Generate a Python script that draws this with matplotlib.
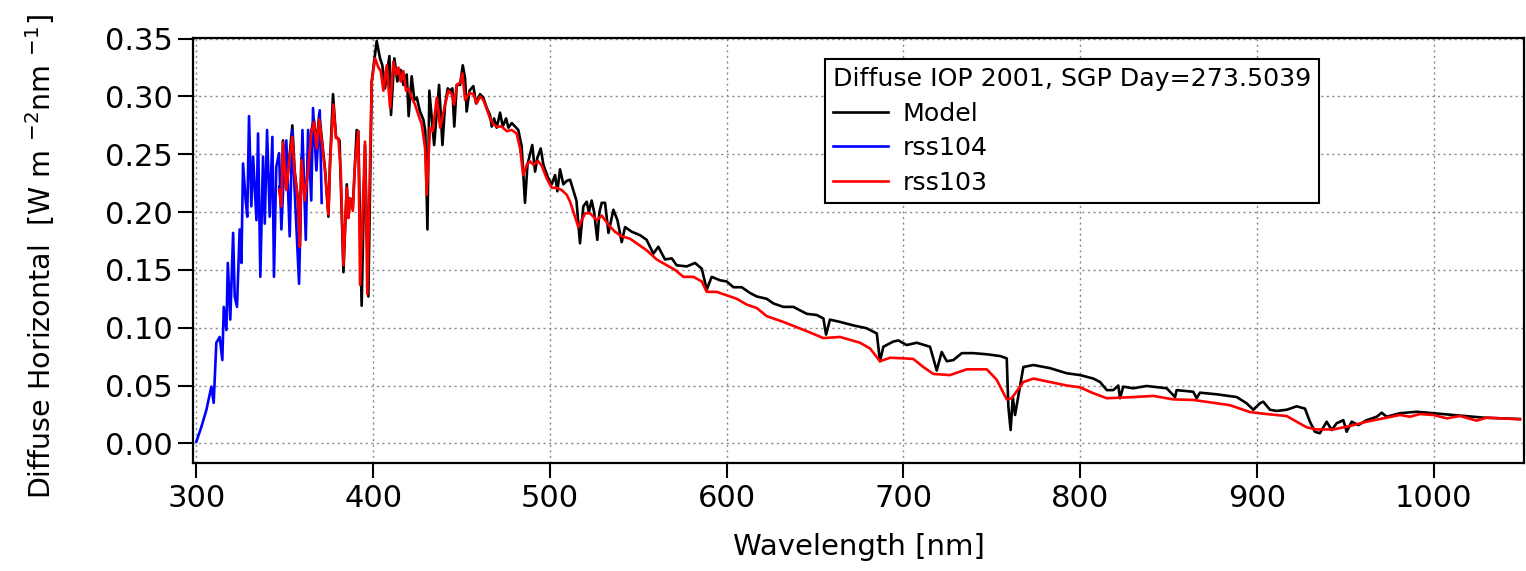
import matplotlib
matplotlib.use("Agg")
import matplotlib.pyplot as plt
from matplotlib.ticker import FormatStrFormatter

# ---------------- data ----------------
rss104_wl = [300, 302.8, 305.7, 308.5, 309.8, 311.3, 313.2, 314.7, 315.5, 317, 317.8, 319.2,
             320.8, 321.7, 323, 324.5, 325.5, 326.4, 327.9, 328.8, 329.8, 331.1, 332.1, 334,
             334.9, 336.2, 337.7, 338.7, 340, 341.5, 343, 343.9, 345.2, 346.8, 348.1, 349.4,
             350.9, 352.8, 354.3, 355.6, 358.1, 360, 361.9, 363.2, 365, 366, 367.9, 369.8, 370.9]
rss104_val = [0.0014, 0.014, 0.029, 0.049, 0.035, 0.087, 0.092, 0.072, 0.118, 0.098, 0.156, 0.107,
              0.182, 0.127, 0.118, 0.185, 0.156, 0.242, 0.210, 0.196, 0.283, 0.205, 0.248, 0.193,
              0.268, 0.144, 0.248, 0.190, 0.271, 0.196, 0.265, 0.144, 0.239, 0.251, 0.185, 0.231,
              0.262, 0.179, 0.271, 0.219, 0.138, 0.271, 0.176, 0.271, 0.210, 0.290, 0.236, 0.288, 0.208]

rss103_wl = [346.8, 348.1, 349, 350.9, 352.8, 354.3, 355.6, 357.5, 358.5, 359.4, 361.3, 363.2,
             365, 366.5, 368.1, 369.5, 370.9, 372.8, 374.7, 375.6, 377.5, 379, 380.3, 381.7,
             383.2, 385.1, 386, 387, 388.5, 389.8, 391.6, 392.6, 395.4, 396.7, 399.2, 401.1,
             403, 404.3, 405.8, 407.7, 409.6, 411.4, 413, 414.3, 415.6, 417.1, 418.6, 419.9,
             421.8, 423.7, 425.6, 427.5, 429.4, 430.3, 432.2, 433.7, 436, 437.9, 440.7, 442.6,
             444.5, 445.8, 447.3, 449.2, 450.5, 452, 454.5, 456.7, 458.6, 460.5, 462.3, 464.3,
             466.1, 468, 469.9, 472.7, 475.6, 478.4, 481.2, 483.1, 484.9, 486.9, 488.7, 490.6,
             493.4, 495.4, 498.2, 501, 503.8, 506.7, 509.5, 511.4, 516.1, 519.9, 522.7, 526.5,
             529.3, 533.1, 536.8, 540.6, 545.3, 549.1, 554.7, 560.4, 566.1, 570.8, 575.5, 581.1,
             585.9, 588.7, 594.3, 600, 605.7, 611.3, 617, 622.6, 632, 645.3, 654.7, 664.1,
             675.4, 681.1, 686.7, 692.4, 699.9, 705.5, 711.2, 716.9, 726.3, 735.7, 747.1, 752.7,
             758.4, 761.2, 767.8, 773.5, 782.9, 792.3, 799.9, 807.4, 815, 830, 841.3, 852.6,
             863.9, 875.2, 884.6, 890.3, 896, 905.4, 916.7, 922.4, 928.1, 933.7, 943.1, 952.6,
             962, 971.4, 980.8, 986.5, 992.1, 999.7, 1007.3, 1014.8, 1024.2, 1029.9, 1037.4, 1048.7]
rss103_val = [0.219, 0.205, 0.260, 0.219, 0.248, 0.265, 0.234, 0.210, 0.170, 0.245, 0.210, 0.236,
              0.268, 0.278, 0.255, 0.280, 0.262, 0.235, 0.198, 0.241, 0.293, 0.264, 0.264, 0.235,
              0.154, 0.221, 0.195, 0.212, 0.201, 0.244, 0.270, 0.137, 0.261, 0.129, 0.313, 0.333,
              0.325, 0.322, 0.305, 0.327, 0.290, 0.330, 0.319, 0.325, 0.313, 0.322, 0.305, 0.307,
              0.299, 0.293, 0.284, 0.276, 0.255, 0.215, 0.273, 0.270, 0.299, 0.273, 0.293, 0.305,
              0.302, 0.293, 0.310, 0.312, 0.320, 0.297, 0.303, 0.302, 0.294, 0.300, 0.297, 0.289,
              0.281, 0.276, 0.274, 0.274, 0.270, 0.271, 0.268, 0.255, 0.232, 0.241, 0.244, 0.241,
              0.244, 0.240, 0.229, 0.221, 0.221, 0.219, 0.215, 0.209, 0.187, 0.199, 0.199, 0.193,
              0.197, 0.189, 0.183, 0.179, 0.177, 0.173, 0.167, 0.159, 0.154, 0.150, 0.144, 0.144,
              0.140, 0.131, 0.131, 0.128, 0.125, 0.120, 0.117, 0.110, 0.105, 0.097, 0.091, 0.092,
              0.087, 0.082, 0.071, 0.074, 0.0735, 0.073, 0.066, 0.060, 0.059, 0.064, 0.064, 0.055,
              0.038, 0.039, 0.053, 0.056, 0.053, 0.050, 0.0484, 0.0433, 0.039, 0.040, 0.041, 0.038,
              0.0375, 0.035, 0.033, 0.030, 0.027, 0.0253, 0.0236, 0.0187, 0.0138, 0.012, 0.012, 0.015,
              0.0187, 0.0216, 0.0245, 0.023, 0.0253, 0.0245, 0.0216, 0.0236, 0.0196, 0.0222, 0.0216, 0.0208]

model_wl = [347, 348.1, 349, 350.9, 352.8, 354.3, 355.6, 357.5, 358.5, 359.4, 361.3, 363.2,
            365, 366.5, 368.1, 369.5, 370.9, 372.8, 374.7, 375.6, 377.3, 379, 381, 383.2,
            385.1, 386, 387, 388.5, 390.7, 391.6, 393.5, 395.4, 397.3, 399.2, 402, 403.9,
            405.2, 406.7, 409.2, 410.1, 412, 413.7, 415.6, 417.1, 419, 420.1, 421.8, 423.3,
            424.7, 426.5, 428.4, 429.5, 430.7, 431.8, 434.5, 437.3, 439.2, 440.7, 442.2, 443.5,
            444.8, 445.9, 447.3, 449.2, 450.7, 452, 452.9, 454.5, 456.7, 458.2, 460.5, 462.3,
            464.3, 466.1, 467.1, 468.4, 469.9, 471.8, 473.3, 475.2, 476.5, 478.4, 480.3, 482.1,
            484, 485.9, 487.3, 488.7, 490, 491.6, 492.9, 494.8, 496.3, 499.1, 501, 502.9,
            504.2, 505.7, 507.6, 509.5, 511.4, 513.2, 515, 517, 518.9, 520.8, 522, 523.6,
            525, 526.8, 528, 529.3, 531.2, 533.1, 535.9, 538.2, 540.6, 542.5, 546.3, 551,
            554.7, 558.5, 561.3, 565.1, 568.9, 571.7, 577.4, 582.1, 585.9, 588.7, 591.5, 596.2,
            600, 603.8, 608.5, 613.2, 617, 622.6, 626.4, 632, 637.7, 645.3, 650.9, 654.7,
            656.2, 658.4, 664.1, 671.6, 679.2, 684.9, 686.7, 688.6, 694.2, 697.1, 701.8, 707.5,
            715, 718.8, 721.6, 724.5, 728.2, 733, 739.5, 747.1, 754.6, 758.4, 759.3, 760.6,
            761.8, 763.1, 767.8, 773.5, 782.9, 792.3, 799.9, 807.4, 811.2, 815, 818.7, 821.5,
            822.5, 824.3, 830, 837.5, 848.9, 853.6, 854.5, 863.9, 865.8, 867.7, 877.1, 888.5,
            894.1, 897.9, 901.6, 903.5, 907.3, 911.1, 916.7, 922.4, 927.1, 929.9, 932.7, 935.5,
            939.4, 942.2, 945, 948.8, 950.7, 953.5, 957.3, 962, 967.7, 970.5, 973.3, 980.8,
            990.3, 999.7, 1011, 1028, 1048.7]
model_val = [0.222, 0.205, 0.262, 0.220, 0.250, 0.275, 0.236, 0.210, 0.170, 0.247, 0.212, 0.238,
             0.270, 0.280, 0.258, 0.285, 0.265, 0.237, 0.196, 0.243, 0.302, 0.265, 0.262, 0.148,
             0.224, 0.195, 0.212, 0.204, 0.271, 0.270, 0.119, 0.258, 0.127, 0.313, 0.348, 0.333,
             0.327, 0.307, 0.335, 0.284, 0.333, 0.313, 0.323, 0.310, 0.319, 0.283, 0.3175, 0.297,
             0.299, 0.287, 0.280, 0.270, 0.185, 0.305, 0.258, 0.310, 0.258, 0.293, 0.307, 0.305,
             0.307, 0.274, 0.310, 0.310, 0.327, 0.316, 0.287, 0.305, 0.309, 0.294, 0.302, 0.299,
             0.290, 0.284, 0.274, 0.281, 0.273, 0.286, 0.274, 0.281, 0.273, 0.277, 0.274, 0.271,
             0.257, 0.208, 0.241, 0.250, 0.258, 0.235, 0.247, 0.255, 0.241, 0.229, 0.224, 0.232,
             0.218, 0.237, 0.224, 0.227, 0.228, 0.219, 0.210, 0.173, 0.205, 0.209, 0.200, 0.210,
             0.200, 0.176, 0.200, 0.208, 0.208, 0.182, 0.202, 0.193, 0.174, 0.187, 0.183, 0.180,
             0.176, 0.164, 0.170, 0.159, 0.160, 0.154, 0.153, 0.156, 0.151, 0.133, 0.144, 0.141,
             0.140, 0.135, 0.135, 0.130, 0.127, 0.125, 0.121, 0.118, 0.118, 0.112, 0.111, 0.108,
             0.094, 0.107, 0.105, 0.102, 0.0995, 0.095, 0.071, 0.0835, 0.088, 0.089, 0.085, 0.087,
             0.0835, 0.063, 0.079, 0.071, 0.072, 0.078, 0.078, 0.077, 0.0755, 0.0735, 0.032, 0.0115,
             0.040, 0.0245, 0.066, 0.0677, 0.065, 0.0606, 0.059, 0.056, 0.053, 0.046, 0.046, 0.050,
             0.039, 0.049, 0.0476, 0.0496, 0.0476, 0.040, 0.046, 0.0446, 0.039, 0.0438, 0.0424, 0.040,
             0.0346, 0.029, 0.0346, 0.036, 0.029, 0.028, 0.029, 0.032, 0.030, 0.0187, 0.010, 0.0087,
             0.0187, 0.0115, 0.0173, 0.020, 0.010, 0.0187, 0.0158, 0.020, 0.023, 0.0265, 0.023, 0.026,
             0.0273, 0.026, 0.0245, 0.0222, 0.021]

x_ticks = [300, 400, 500, 600, 700, 800, 900, 1000]
y_ticks = [0.00, 0.05, 0.10, 0.15, 0.20, 0.25, 0.30, 0.35]
legend_title = "Diffuse IOP 2001, SGP Day=273.5039"
series_names = ["Model", "rss104", "rss103"]

# ---------------- figure ----------------
plt.rcParams['font.family'] = ['DejaVu Sans']
fig = plt.figure(figsize=(15.26, 5.71), dpi=100)
ax = fig.add_axes([0.1267, 0.1886, 0.872, 0.7457])

l_model, = ax.plot(model_wl, model_val, color='black', lw=1.9, label=series_names[0])
l_104, = ax.plot(rss104_wl, rss104_val, color='#0000ff', lw=1.9, label=series_names[1])
l_103, = ax.plot(rss103_wl, rss103_val, color='#ff0000', lw=1.9, label=series_names[2])

ax.set_xlim(298.3, 1051)
ax.set_ylim(-0.0173, 0.351)
ax.set_xticks(x_ticks)
ax.set_yticks(y_ticks)
ax.yaxis.set_major_formatter(FormatStrFormatter('%.2f'))
ax.grid(True, which='major', linestyle=(0, (1.5, 2.5)), color='#888888', lw=1.0)
ax.tick_params(axis='both', direction='out', length=11, width=1.5, labelsize=22, pad=4,
               top=False, right=False)
for sp in ax.spines.values():
    sp.set_linewidth(1.6)

ax.set_xlabel("Wavelength [nm]", fontsize=21, labelpad=14)
ax.set_ylabel(r"Diffuse Horizontal  [W m $^{-2}$nm $^{-1}$]", fontsize=20.5, labelpad=34)
ax.yaxis.label.set_y(0.486)

leg = ax.legend(handles=[l_model, l_104, l_103], title=legend_title,
                loc='upper left', bbox_to_anchor=(0.4745, 0.950),
                fontsize=18.2, title_fontsize=18.2, frameon=True, fancybox=False,
                edgecolor='black', framealpha=1, handlelength=2.2, handletextpad=0.55,
                labelspacing=0.42, borderpad=0.32, alignment='left', borderaxespad=0)
leg.get_frame().set_linewidth(1.5)

fig.savefig("out.png", dpi=100)
